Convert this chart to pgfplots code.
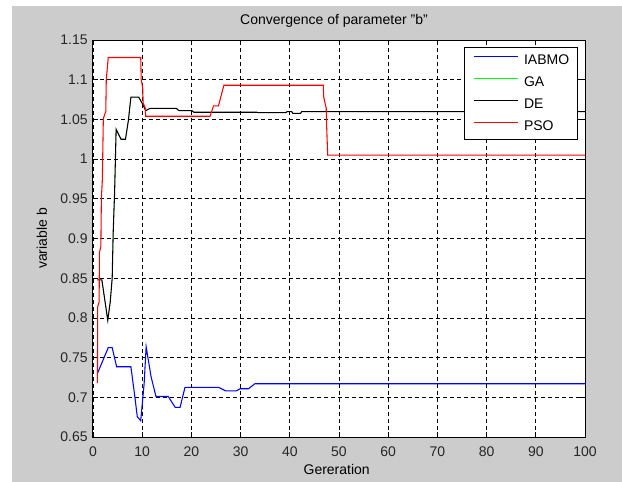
\documentclass[border=0pt]{standalone}
\usepackage{fontspec}
\setmainfont{Liberation Sans}
\usepackage{pgfplots}
\pgfplotsset{compat=1.18}
\definecolor{figgray}{RGB}{204,204,204}
\definecolor{mblue}{RGB}{0,0,255}
\definecolor{mgreen}{RGB}{0,255,0}
\definecolor{mred}{RGB}{255,0,0}

\pgfplotstableread{
x y
0.9 0.848
1.8 0.848
3.0 0.797
3.5 0.820
3.9 0.850
4.1 0.907
4.4 0.960
4.7 1.0375
5.7 1.025
6.6 1.025
7.2 1.049
7.7 1.078
9.3 1.078
10.2 1.068
10.7 1.061
11.6 1.064
16.9 1.064
17.5 1.061
20.1 1.061
20.5 1.059
33.3 1.059
33.6 1.0585
39.2 1.0585
39.4 1.0597
40.4 1.0597
40.6 1.0577
42.2 1.0577
42.4 1.0597
100 1.0597
}\dedata

\begin{document}
\begin{tikzpicture}
  % figure background (1px = 0.75pt)
  \fill[white] (0,0) rectangle (466.5pt,-361.5pt);
  \fill[figgray] (9pt,-4.5pt) rectangle (466.5pt,-361.5pt);

  \begin{axis}[
      at={(69.75pt,-327.75pt)}, anchor=south west,
      scale only axis,
      width=369pt, height=297.75pt,
      xmin=0, xmax=100, ymin=0.65, ymax=1.15,
      xtick={0,10,...,100},
      ytick={0.65,0.7,0.75,0.8,0.85,0.9,0.95,1,1.05,1.1,1.15},
      yticklabels={0.65,0.7,0.75,0.8,0.85,0.9,0.95,1,1.05,1.1,1.15},
      /pgf/number format/assume math mode=true,
      font=\fontsize{10.5}{12}\selectfont,
      tick label style={font=\fontsize{10.5}{12}\selectfont, text=black!85},
      xticklabel style={yshift=-3.5pt},
      yticklabel style={xshift=-0.5pt},
      tick align=inside,
      major tick length=3.75pt,
      tick style={black, line width=0.6pt},
      axis line style={black, line width=0.75pt},
      axis background/.style={fill=white},
      grid=major,
      grid style={black, line width=0.6pt, dash pattern=on 3pt off 2.25pt},
      title={Convergence of parameter "b"},
      every axis title shift=0pt,
      title style={at={(0.4898,1.0479)}, anchor=center,
        font=\fontsize{10.5}{12}\selectfont},
      xlabel={Gereration},
      xlabel style={at={(0.4953,-0.0932)}, anchor=base},
      ylabel={variable b},
      ylabel style={at={(-0.1037,0.5)}, anchor=center, rotate=0},
      legend style={at={(0.9864,0.9816)}, anchor=north east,
        draw=black, line width=0.75pt, fill=white,
        font=\fontsize{10.5}{12}\selectfont,
        inner xsep=6.5pt, inner ysep=4.25pt,
        nodes={inner sep=0pt, text height=8pt, text depth=2.5pt},
        row sep=6pt, column sep=4.3pt},
      legend cell align=left,
      legend image code/.code={\draw[#1, line width=0.9pt] (0pt,3.2pt) -- (33pt,3.2pt);},
      every axis plot/.append style={line width=0.8pt},
    ]
    \addplot[mblue] coordinates {
      (0.9,0.730) (3.1,0.7625) (3.9,0.7625) (4.8,0.7385) (7.7,0.7385)
      (8.5,0.701) (9.0,0.6756) (9.7,0.6705) (10.4,0.7176) (10.8,0.7637)
      (11.8,0.726) (12.8,0.701) (15.3,0.701) (16.7,0.6874) (17.7,0.6874)
      (18.7,0.7126) (25.5,0.7126) (27.0,0.708) (29.1,0.708) (29.9,0.7108)
      (31.6,0.7108) (32.9,0.7171) (100,0.7171)};
    \addlegendentry{IABMO}
    % GA coincides with DE and lies hidden under it
    \addplot[mgreen, line width=0.25pt] table[x=x, y=y] {\dedata};
    \addlegendentry{GA}
    \addplot[black] table[x=x, y=y] {\dedata};
    \addlegendentry{DE}
    \addplot[mred] coordinates {
      (0.9,0.718) (0.95,0.814) (1.25,0.820) (1.3,0.882) (1.6,0.890)
      (1.7,0.950) (1.9,0.974) (2.1,1.051) (2.6,1.060) (2.7,1.100)
      (3.1,1.128) (9.7,1.128) (9.8,1.100) (10.1,1.090) (10.2,1.070)
      (10.6,1.065) (10.7,1.054) (23.8,1.054) (24.5,1.067) (25.5,1.067)
      (26.6,1.093) (46.8,1.093) (46.9,1.078) (47.4,1.064) (47.5,1.040)
      (47.7,1.005) (100,1.005)};
    \addlegendentry{PSO}
  \end{axis}

  \pgfresetboundingbox
  \path (0,0) rectangle (466.5pt,-361.5pt);
\end{tikzpicture}
\end{document}
